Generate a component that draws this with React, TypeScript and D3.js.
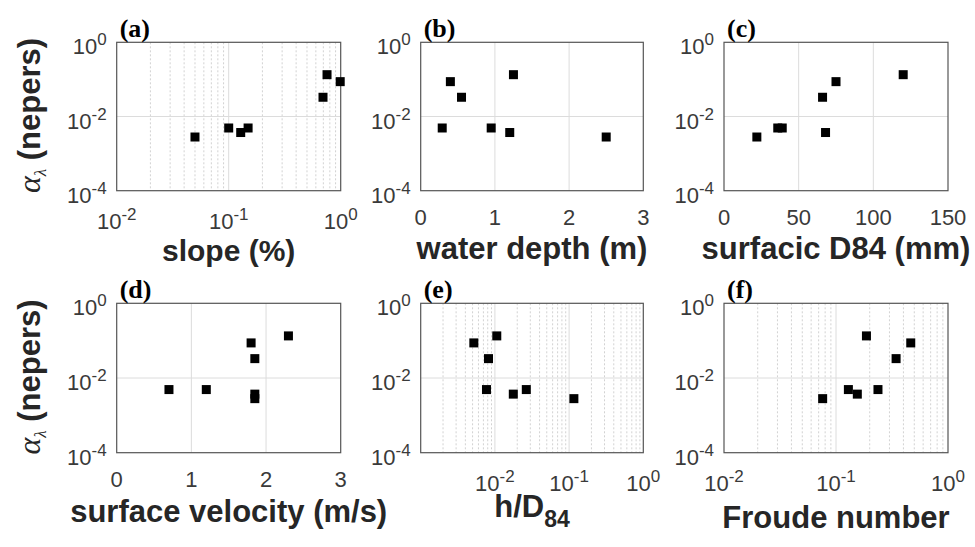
import React from 'react';
import * as d3 from 'd3';

// attenuation per site (nepers), same order in every x array below
const alpha = [0.0028, 0.0049, 0.0049, 0.0037, 0.033, 0.134, 0.087];

const slope = [0.05, 0.1, 0.149, 0.128, 0.695, 0.755, 0.99];
const waterDepth = [2.5, 0.29, 0.95, 1.2, 0.55, 1.25, 0.4];
const surfD84 = [22, 36, 39, 68, 66, 120, 75];
const surfVelocity = [1.85, 0.7, 1.2, 1.85, 1.85, 2.3, 1.8];
const hOverD84 = [0.116, 0.0077, 0.0265, 0.0177, 0.0082, 0.0106, 0.0052];
const froude = [0.076, 0.129, 0.237, 0.155, 0.344, 0.187, 0.465];

const yTicks = [1e-4, 1e-2, 1];
const logTicks = [1e-2, 1e-1, 1];
const depthTicks = [0, 1, 2, 3];
const d84Ticks = [0, 50, 100, 150];
const velocityTicks = [0, 1, 2, 3];

const W = 975;
const H = 547;
const SANS = '"Liberation Sans", Arial, Helvetica, sans-serif';
const SERIF = '"Liberation Serif", "Times New Roman", serif';
const INK = '#262626';

const cols = [[116.7, 340.7], [420.7, 643.3], [724, 948]];
const rows = [[42.3, 190.7], [303.3, 452.7]];

const panels = [
  { tag: '(a)', col: 0, row: 0, log: true, domain: [1e-2, 1], ticks: logTicks, x: slope, label: 'slope (%)', labelDy: 70, labelSize: 30 },
  { tag: '(b)', col: 1, row: 0, log: false, domain: [0, 3], ticks: depthTicks, x: waterDepth, label: 'water depth (m)', labelDy: 68.5 },
  { tag: '(c)', col: 2, row: 0, log: false, domain: [0, 150], ticks: d84Ticks, x: surfD84, label: 'surfacic D84 (mm)', labelDy: 68.5 },
  { tag: '(d)', col: 0, row: 1, log: false, domain: [0, 3], ticks: velocityTicks, x: surfVelocity, label: 'surface velocity (m/s)', labelDy: 69.5 },
  { tag: '(e)', col: 1, row: 1, log: true, domain: [1e-3, 1], ticks: logTicks, x: hOverD84, label: 'h/D', sub: '84', labelDy: 64.5 },
  { tag: '(f)', col: 2, row: 1, log: true, domain: [1e-2, 1], ticks: logTicks, x: froude, label: 'Froude number', labelDy: 75.5 },
];

function Pow({ x, y, exp, anchor }) {
  return (
    <text x={x} y={y} textAnchor={anchor} fontFamily={SANS} fontSize={22} fill="#3a3a3a">
      10<tspan fontSize={17} dy={-9}>{exp}</tspan>
    </text>
  );
}

function minorTicks(domain) {
  const out = [];
  const lo = Math.round(Math.log10(domain[0]));
  const hi = Math.round(Math.log10(domain[1]));
  for (let k = lo; k < hi; k++) {
    for (let m = 2; m <= 9; m++) out.push(m * Math.pow(10, k));
  }
  return out;
}

function Panel({ p }) {
  const [x0, x1] = cols[p.col];
  const [y0, y1] = rows[p.row];
  const xScale = p.log
    ? d3.scaleLog().domain(p.domain).range([x0, x1])
    : d3.scaleLinear().domain(p.domain).range([x0, x1]);
  const yScale = d3.scaleLog().domain([1e-4, 1]).range([y1, y0]);
  const s = 9;

  const majorX = p.ticks.filter(t => t > p.domain[0] && t < p.domain[1]);
  const minorX = p.log ? minorTicks(p.domain) : [];
  const cx = (x0 + x1) / 2;

  return (
    <g>
      {/* minor grid (log x only) */}
      {minorX.map((t, i) => (
        <line key={'m' + i} x1={xScale(t)} x2={xScale(t)} y1={y0} y2={y1}
          stroke="#d2d2d2" strokeWidth={1} strokeDasharray="2,2" />
      ))}
      {/* major grid */}
      {majorX.map((t, i) => (
        <line key={'gx' + i} x1={xScale(t)} x2={xScale(t)} y1={y0} y2={y1} stroke="#dcdcdc" strokeWidth={1} />
      ))}
      {yTicks.slice(1, -1).map((t, i) => (
        <line key={'gy' + i} x1={x0} x2={x1} y1={yScale(t)} y2={yScale(t)} stroke="#dcdcdc" strokeWidth={1} />
      ))}

      <rect x={x0} y={y0} width={x1 - x0} height={y1 - y0} fill="none" stroke="#555" strokeWidth={1.2} />

      {/* y tick labels */}
      {yTicks.map((t, i) => (
        <Pow key={'yl' + i} x={x0 - 10} y={yScale(t) + 12} exp={String(Math.round(Math.log10(t)))} anchor="end" />
      ))}

      {/* x tick labels */}
      {p.ticks.map((t, i) =>
        p.log ? (
          <Pow key={'xl' + i} x={xScale(t)} y={y1 + 38.5} exp={String(Math.round(Math.log10(t)))} anchor="middle" />
        ) : (
          <text key={'xl' + i} x={xScale(t)} y={y1 + 34} textAnchor="middle" fontFamily={SANS} fontSize={22} fill="#3a3a3a">
            {t}
          </text>
        )
      )}

      {/* markers */}
      {p.x.map((v, i) => (
        <rect key={'pt' + i} x={xScale(v) - s / 2} y={yScale(alpha[i]) - s / 2} width={s} height={s} fill="#000" />
      ))}

      {/* x label */}
      <text x={cx} y={y1 + p.labelDy} textAnchor="middle" fontFamily={SANS} fontSize={p.labelSize || 31} fontWeight="bold" fill={INK}>
        {p.label}
        {p.sub && <tspan fontSize={23} dy={10}>{p.sub}</tspan>}
      </text>

      {/* panel tag */}
      <text x={x0 + 3} y={y0 - 5.5} fontFamily={SERIF} fontSize={26} fontWeight="bold" fill="#000">{p.tag}</text>

      {/* y label (first column only) */}
      {p.col === 0 && (
        <text transform={`translate(40,${(y0 + y1) / 2 - 1}) rotate(-90)`} textAnchor="middle" fill={INK}>
          <tspan fontFamily={SERIF} fontStyle="italic" fontSize={32}>α</tspan>
          <tspan fontFamily={SERIF} fontStyle="italic" fontSize={17} dy={6}>λ</tspan>
          <tspan fontFamily={SANS} fontWeight="bold" fontSize={31} dy={-6}>{' (nepers)'}</tspan>
        </text>
      )}
    </g>
  );
}

export default function App() {
  return (
    <svg width={W} height={H} style={{ position: 'absolute', left: 0, top: 0, background: '#fff' }}>
      <rect width={W} height={H} fill="#fff" />
      {panels.map(p => <Panel key={p.tag} p={p} />)}
    </svg>
  );
}
